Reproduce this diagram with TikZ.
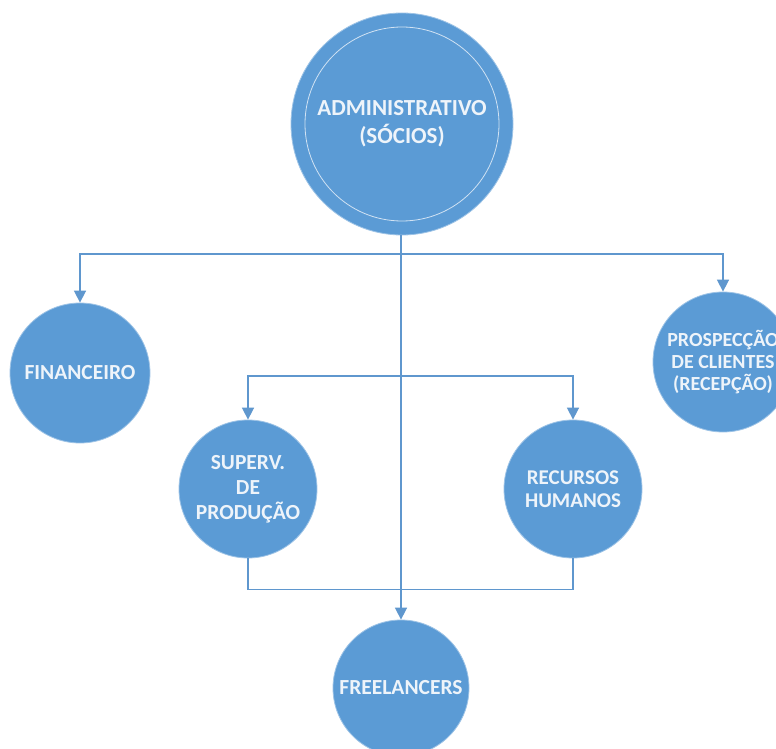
\documentclass[tikz,border=0pt]{standalone}
\usepackage{fontspec}
\setmainfont{Carlito}
\usetikzlibrary{arrows.meta}
\definecolor{orgblue}{HTML}{5B9BD5}
\definecolor{linkblue}{HTML}{5F97CE}
\definecolor{txtwhite}{HTML}{EEF4FA}
\begin{document}
\begin{tikzpicture}[x=1pt,y=-1pt,
  unit/.style={circle, fill=orgblue, draw=orgblue!60!white, line width=0.8pt, text=txtwhite,
    align=center, inner sep=0pt, font=\fontsize{21.5}{25}\selectfont\bfseries},
  link/.style={draw=linkblue, line width=1.6pt},
  arr/.style={link, -{Triangle[width=12pt,length=12pt]}}]
\clip (0,0) rectangle (776,749);
\fill[white] (0,0) rectangle (776,749);

\node[unit, minimum size=222pt, font=\fontsize{23}{28}\selectfont\bfseries] (adm) at (402,124) {ADMINISTRATIVO\\(SÓCIOS)};
\draw[draw=txtwhite!80!orgblue, line width=0.8pt] (adm.center) circle[radius=97pt];
\node[unit, minimum size=140pt] (fin) at (80,373) {FINANCEIRO};
\node[unit, minimum size=140pt, font=\fontsize{20}{22}\selectfont\bfseries] (pro) at (723,362) {PROSPECÇÃO\\DE CLIENTES\\(RECEPÇÃO)};
\node[unit, minimum size=138pt] (sup) at (248,489) {SUPERV.\\DE\\PRODUÇÃO};
\node[unit, minimum size=138pt, font=\fontsize{21}{23}\selectfont\bfseries] (rh) at (573,489) {RECURSOS\\HUMANOS};
\node[unit, minimum size=136pt] (fre) at (401,688) {FREELANCERS};

\coordinate (hub1) at (401,254);
\coordinate (hub2) at (401,376);

\draw[arr] (hub1) -| (fin.north);
\draw[arr] (hub1) -| (pro.north);
\draw[arr] (adm.south -| hub1) -- (fre.north);
\draw[arr] (hub2) -| (sup.north);
\draw[arr] (hub2) -| (rh.north);
\draw[link] (sup.south) -- ++(0,31) -| (rh.south);
\end{tikzpicture}
\end{document}
